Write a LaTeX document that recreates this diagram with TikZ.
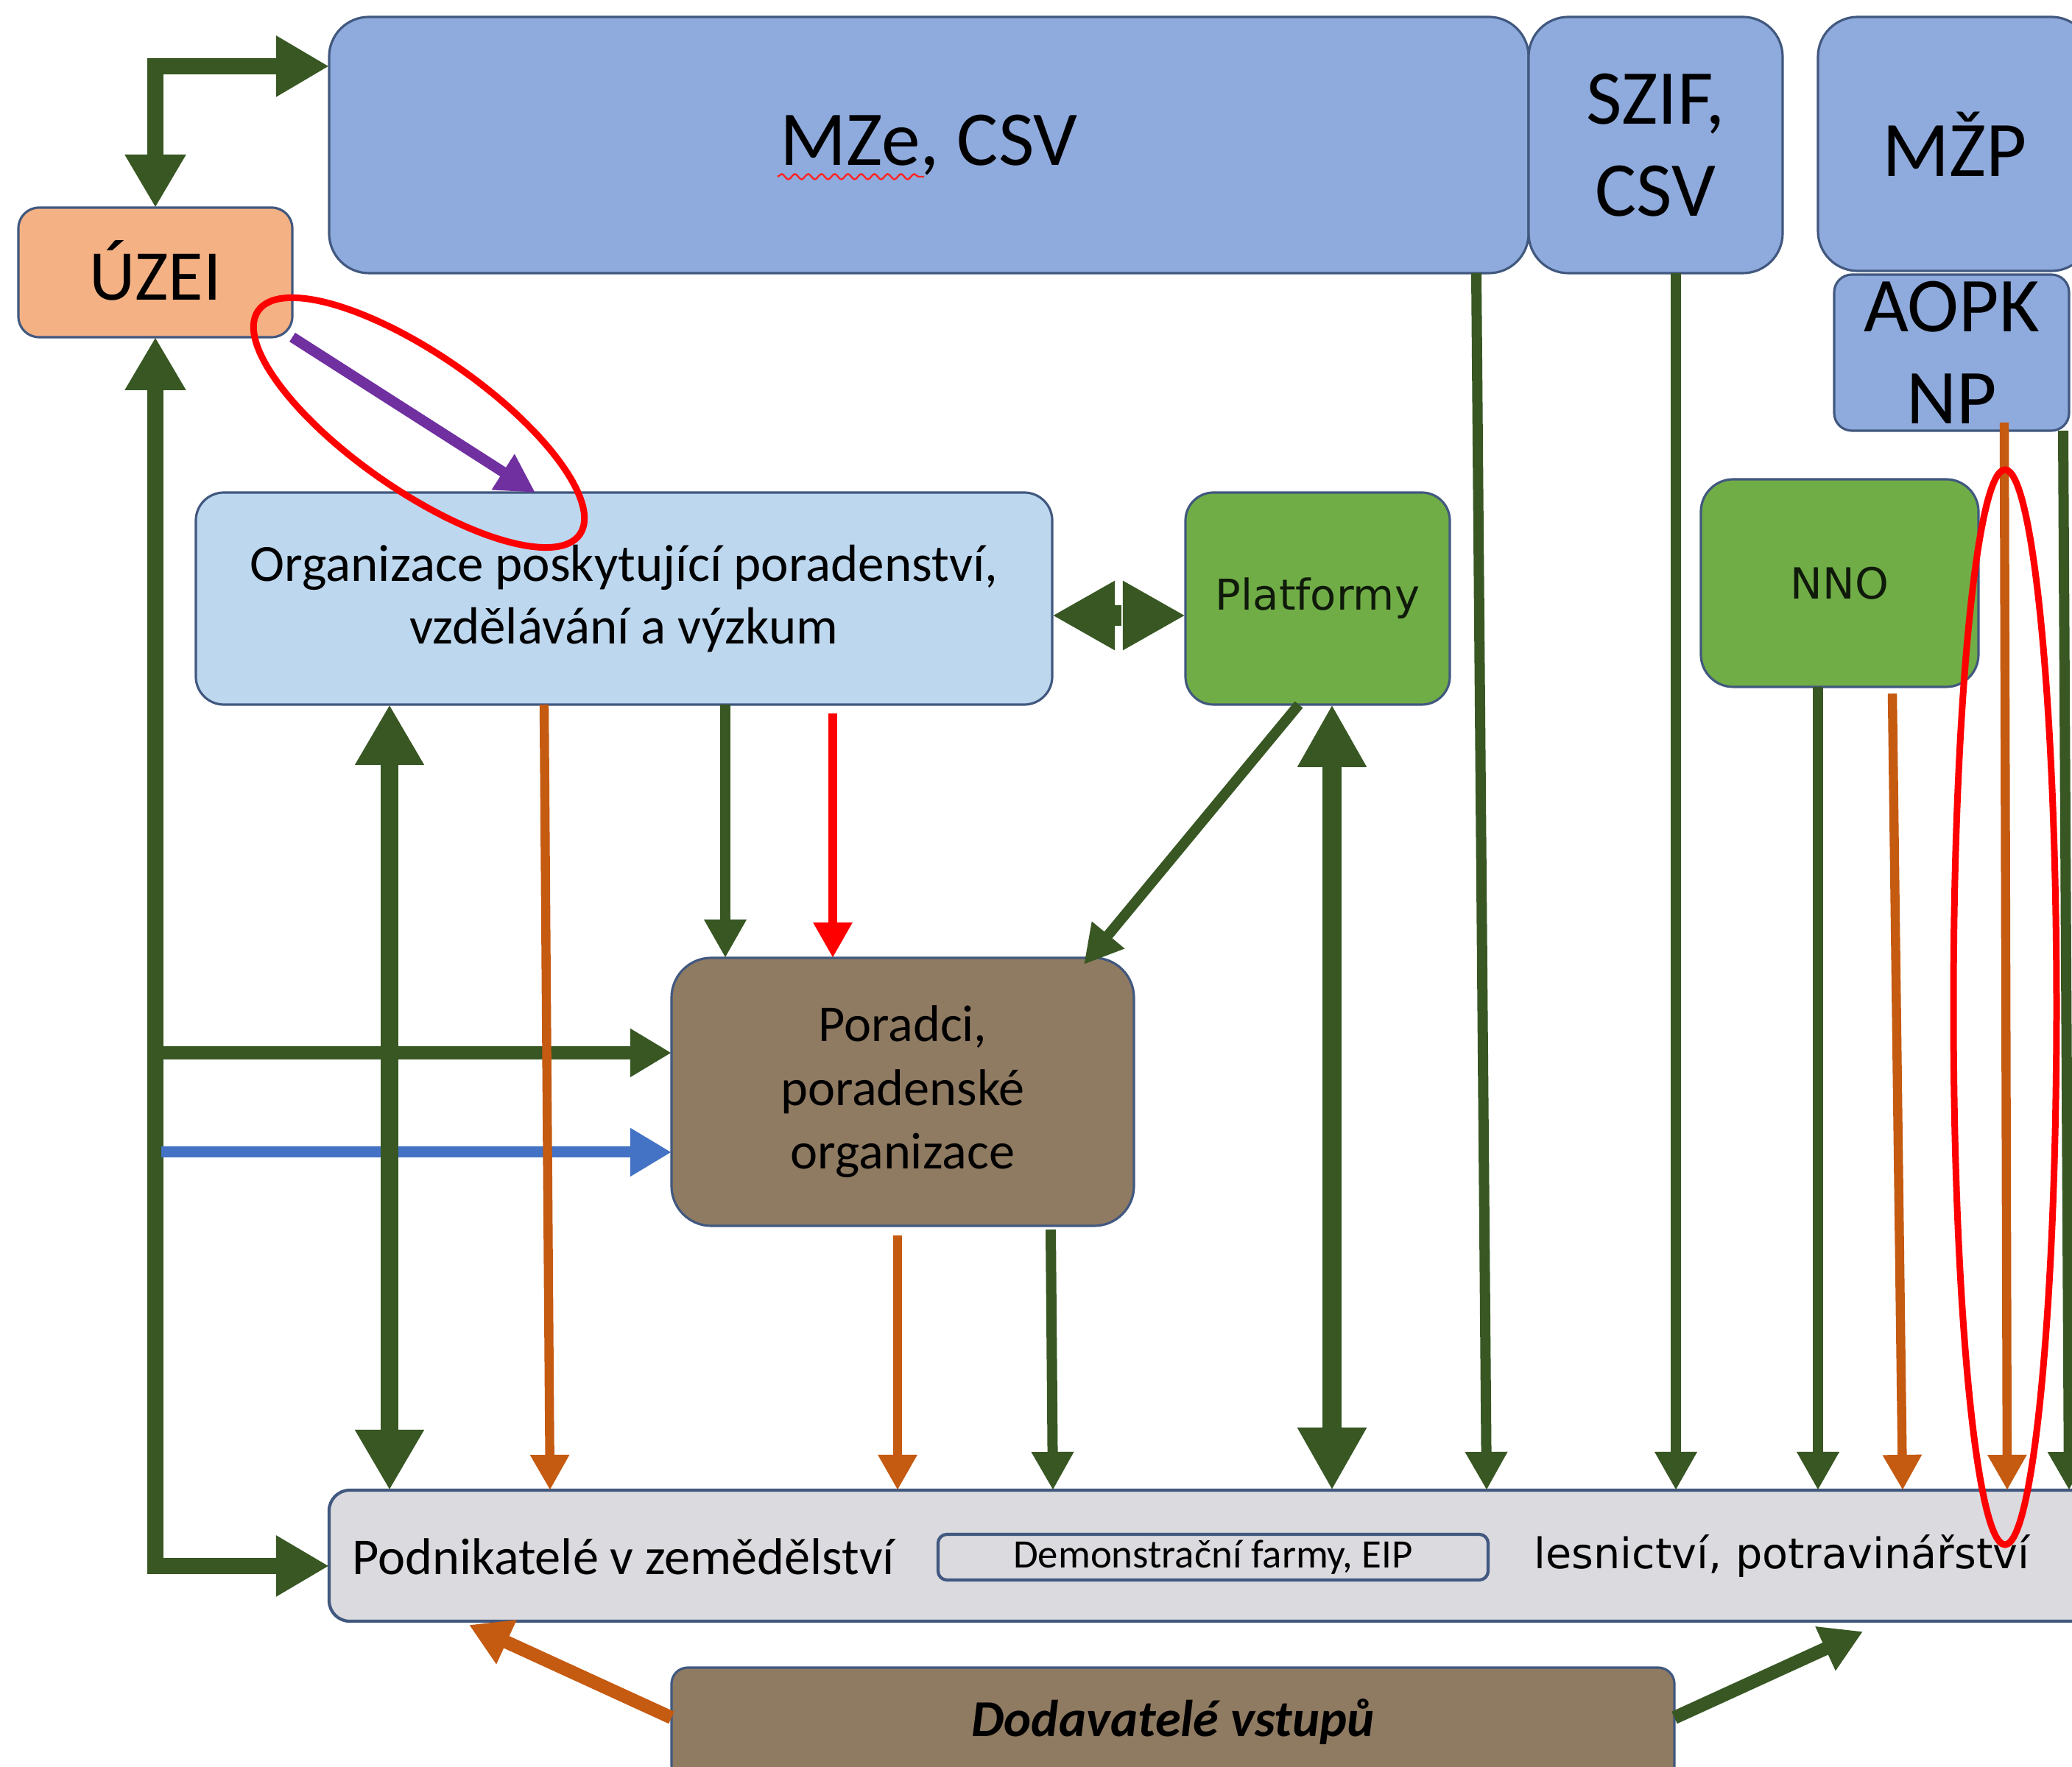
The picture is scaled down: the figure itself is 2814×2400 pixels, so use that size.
\documentclass[tikz,border=0pt]{standalone}
\usepackage{fontspec}
\setmainfont{Carlito}
\newfontfamily\dejavu{DejaVu Sans}
\usetikzlibrary{arrows.meta,decorations.pathmorphing}
\definecolor{boxblue}{HTML}{8FAADC}
\definecolor{lightblue}{HTML}{BDD7EE}
\definecolor{uzeiorange}{HTML}{F4B183}
\definecolor{boxgreen}{HTML}{70AD47}
\definecolor{boxbrown}{HTML}{8F7A62}
\definecolor{boxgrey}{HTML}{DADADF}
\definecolor{edgecol}{HTML}{41587F}
\definecolor{dkgreen}{HTML}{385723}
\definecolor{arrorange}{HTML}{C55A11}
\definecolor{arrpurple}{HTML}{7030A0}
\definecolor{arrblue}{HTML}{4472C4}
\definecolor{txtdark}{HTML}{101A0A}
\tikzset{
  BigTipA/.tip={Triangle[width=3.9mm,length=3.6mm]},
  BigTipB/.tip={Triangle[width=4.4mm,length=4.1mm]},
  BigTipC/.tip={Triangle[width=4.4mm,length=4.25mm]},
  MidTip/.tip={Triangle[width=3.1mm,length=2.8mm]},
  ThinTip/.tip={Triangle[width=2.7mm,length=2.6mm]},
  OrTip/.tip={Triangle[width=2.5mm,length=2.4mm]},
  box/.style={draw=edgecol, line width=0.45pt, inner sep=0pt, outer sep=0pt, align=center, text=black},
  gthick/.style={draw=dkgreen, line width=1.1mm, line join=miter, {BigTipA}-{BigTipA}},
  gdouble/.style={draw=dkgreen, line width=1.2mm, {BigTipB}-{BigTipB}},
  gpair/.style={draw=dkgreen, line width=1.4mm, -{BigTipC}},
  gmid/.style={draw=dkgreen, line width=0.9mm, -{MidTip}},
  gthin/.style={draw=dkgreen, line width=0.7mm, -{ThinTip}},
  oarr/.style={draw=arrorange, line width=0.62mm, -{OrTip}},
  odiag/.style={draw=arrorange, line width=0.9mm, -{MidTip}},
  rarr/.style={draw=red, line width=0.62mm, -{OrTip}},
  parr/.style={draw=arrpurple, line width=0.72mm, -{ThinTip}},
  barr/.style={draw=arrblue, line width=0.75mm, -{MidTip}},
  redring/.style={draw=red, line width=0.45mm},
}
\begin{document}
\begin{tikzpicture}[x=0.05mm,y=-0.05mm]
\useasboundingbox (0,0) rectangle (2814,2400);
\fill[white] (0,0) rectangle (2814,2400);
\clip (0,0) rectangle (2814,2400);

% ---------- boxes ----------
\node[box, fill=boxblue, rounded corners=2.7mm, minimum width=81.45mm, minimum height=17.4mm,
      font=\fontsize{15}{18}\selectfont] (mze) at (1261.5,197) {MZe, CSV};
\node[box, fill=boxblue, rounded corners=2.7mm, minimum width=17.25mm, minimum height=17.4mm,
      font=\fontsize{15}{17.7}\selectfont] (szif) at (2248.5,197) {SZIF,\\CSV};
\node[box, fill=boxblue, rounded corners=2.7mm, minimum width=18.55mm, minimum height=17.25mm,
      font=\fontsize{15.2}{18}\selectfont] (mzp) at (2654.5,195.5) {MŽP};
\node[box, fill=boxblue, rounded corners=1.2mm, minimum width=15.95mm, minimum height=10.6mm,
      font=\fontsize{15}{17.7}\selectfont] (aopk) at (2650.5,479) {AOPK\\NP};
\node[box, fill=uzeiorange, rounded corners=1.4mm, minimum width=18.6mm, minimum height=8.8mm,
      font=\fontsize{13.8}{16}\selectfont] (uzei) at (211,370) {\raisebox{0.3mm}{ÚZEI}};
\node[box, fill=lightblue, rounded corners=1.9mm, minimum width=58.15mm, minimum height=14.4mm,
      font=\fontsize{10.1}{12.2}\selectfont] (org) at (847.5,813)
      {Organizace poskytující poradenství,\\vzdělávání a výzkum};
\node[box, fill=boxgreen, rounded corners=1.9mm, minimum width=17.95mm, minimum height=14.4mm,
      text=txtdark, font=\dejavu\fontsize{8.2}{10}\selectfont] (plat) at (1789.5,813) {Platformy};
\node[box, fill=boxgreen, rounded corners=2.2mm, minimum width=18.85mm, minimum height=14.1mm,
      text=txtdark, font=\dejavu\fontsize{8.3}{10}\selectfont] (nno) at (2498.5,792) {NNO};
\node[box, fill=boxbrown, rounded corners=2.7mm, minimum width=31.4mm, minimum height=18.2mm,
      font=\fontsize{10}{12.3}\selectfont] (poradci) at (1226,1483)
      {Poradci,\\poradenské\\organizace};
\node[box, fill=boxgrey, line width=0.6pt, rounded corners=1.4mm, minimum width=119.65mm, minimum height=8.9mm] (podn) at (1643.5,2113) {};
\node[box, fill=boxgrey, line width=0.6pt, rounded corners=0.6mm, minimum width=37.35mm, minimum height=3.1mm,
      font=\fontsize{7.8}{9}\selectfont] (demo) at (1647.5,2115) {Demonstrační farmy, EIP};
\node[anchor=west, inner sep=0pt, font=\fontsize{10}{12}\selectfont] (podtxt) at (477,2114) {Podnikatelé v zemědělství};
\node[inner sep=0pt, font=\dejavu\fontsize{8.15}{9}\selectfont] (lestxt) at (2420,2114) {lesnictví, potravinářství};
\node[box, fill=boxbrown, rounded corners=1.1mm, minimum width=68.1mm, minimum height=7.75mm,
      font=\bfseries\itshape\fontsize{10}{12}\selectfont] (dodav) at (1593,2342.5) {\raisebox{0.9mm}{Dodavatelé vstupů}};

% spell-check underline
\draw[red!80!pink, line width=0.12mm, decorate, decoration={snake, amplitude=0.18mm, segment length=0.9mm}]
  (1056,240) -- (1255,240);

% ---------- connectors ----------
% UZEI <-> MZe
\draw[gthick] (uzei.north) -- (uzei.north |- 0,90) -- (mze.west |- 0,90);
% left loop UZEI <-> Podnikatele
\draw[gthick] (uzei.south) -- (uzei.south |- 0,2127) -- (podn.west |- 0,2127);
\coordinate (g1) at (211,1430);
\draw[gmid] (g1) -- (poradci.west |- g1);
\coordinate (b1) at (219,1565);
\draw[barr] (b1) -- (poradci.west |- b1);
% purple
\draw[parr] (uzei.south east) -- (org.north -| 727,0);
% Org <-> Podn
\draw[gdouble] (org.south -| 529,0) -- (podn.north -| 529,0);
\draw[oarr] (org.south -| 739,0) -- (podn.north -| 747,0);
\draw[gthin] (org.south -| 985,0) -- (poradci.north -| 985,0);
\coordinate (rs) at (1131,969);
\draw[rarr] (rs) -- (poradci.north -| rs);
% Platformy -> Poradci
\draw[gthin] (plat.south -| 1764,0) -- (1472,1310);
% Org <-> Platformy
\draw[gpair] (1523,836) -- (org.east |- 0,836);
\draw[gpair] (1533,836) -- (plat.west |- 0,836);
% Platformy <-> Podn
\draw[draw=dkgreen, line width=1.3mm, {BigTipC}-{BigTipC}] (plat.south -| 1809,0) -- (podn.north -| 1809,0);
% Poradci -> Podn
\coordinate (ks) at (1219,1678);
\draw[oarr] (ks) -- (podn.north -| ks);
\coordinate (ls) at (1427,1670);
\draw[gthin] (ls) -- (podn.north -| 1430,0);
% ministries -> Podn
\draw[gthin] (mze.south -| 2005,0) -- (podn.north -| 2019,0);
\draw[gthin] (szif.south -| 2276,0) -- (podn.north -| 2276,0);
\draw[gthin] (nno.south -| 2469,0) -- (podn.north -| 2469,0);
\coordinate (ps) at (2570,942);
\draw[oarr] (ps) -- (podn.north -| 2584,0);
\coordinate (qs) at (2722,574);
\draw[oarr] (qs) -- (podn.north -| 2726,0);
\draw[gthin] (aopk.south -| 2802,0) -- (podn.north -| 2810,0);
% Dodavatele
\draw[odiag] (dodav.west |- 0,2333) -- (637,2207);
\draw[gmid] (dodav.east |- 0,2333) -- (2530,2216);

% ---------- red highlight rings ----------
\draw[redring, rotate around={-34.8:(569,574)}] (569,574) ellipse [x radius=13.3mm, y radius=4.6mm];
\draw[redring] (2723,1368) ellipse [x radius=3.5mm, y radius=36.5mm];
\end{tikzpicture}
\end{document}
